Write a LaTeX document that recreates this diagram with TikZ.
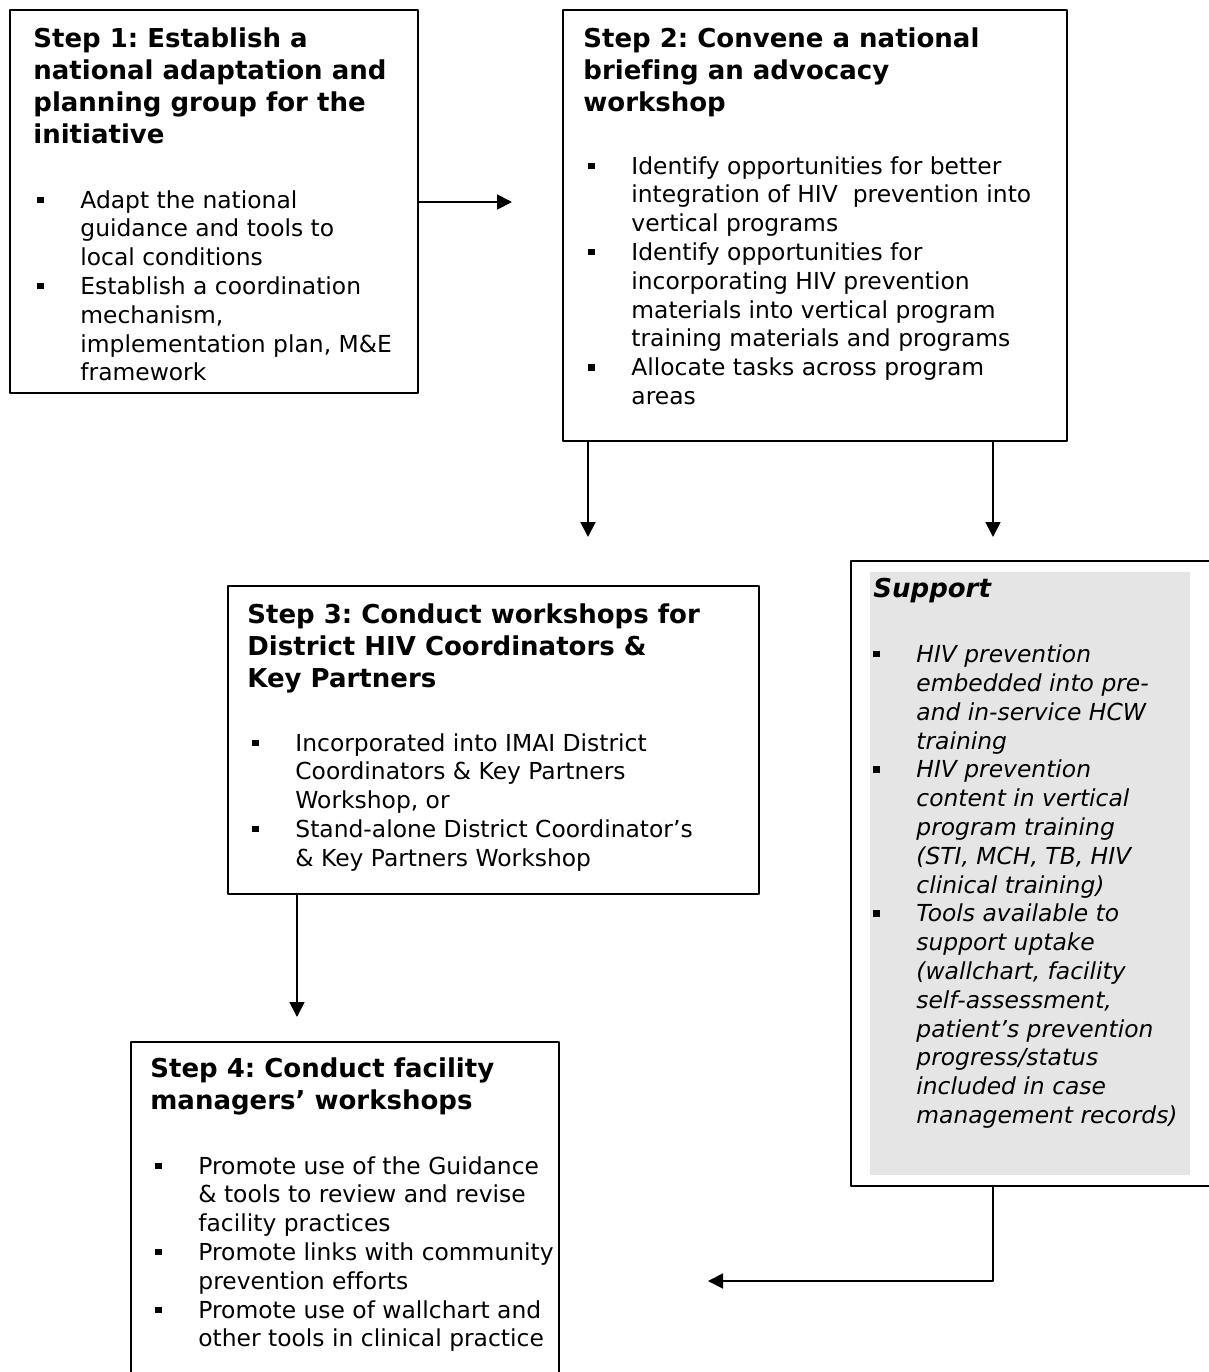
\documentclass[tikz,border=0pt]{standalone}
\usepackage{fontspec}
\setmainfont[Ligatures=CommonOff]{DejaVu Sans}
\usetikzlibrary{arrows.meta}
\definecolor{supgray}{RGB}{229,229,229}
\frenchspacing
\newcommand{\bitem}{\makebox[21.5pt][l]{\raisebox{2.6pt}{\rule{3.2pt}{3.2pt}}}}
\newcommand{\bcont}{\hspace*{21.5pt}}
\begin{document}
\begin{tikzpicture}[x=.5pt, y=-.5pt, line join=round, >={Triangle[length=7.5pt,width=7.5pt]},
	box/.style={draw, line width=1pt, inner sep=0pt, anchor=north west},
	ttl/.style={anchor=north west, inner sep=0pt, align=left, font=\fontsize{13}{16}\selectfont\bfseries},
	lst/.style={anchor=north west, inner sep=0pt, align=left, font=\fontsize{11.7}{14.4}\selectfont},
	arr/.style={->, line width=.9pt}]
	\clip (0,0) rectangle (1209,1372);
	% the four steps
	\node[box, minimum width=204pt, minimum height=191.5pt] (s1) at (9,9) {};
	\node[ttl] (t1) at (33,27.7) {Step 1: Establish a\\national adaptation and\\planning group for the\\initiative};
	\node[lst] (l1) at (37,190) {\bitem Adapt the national\\\bcont guidance and tools to\\\bcont local conditions\\
		\bitem Establish a coordination\\\bcont mechanism,\\\bcont implementation plan, M\&E\\\bcont framework};
	\node[box, minimum width=252pt, minimum height=215.5pt] (s2) at (562,9) {};
	\node[ttl] (t2) at (583,27.7) {Step 2: Convene a national\\briefing an advocacy\\workshop};
	\node[lst] (l2) at (588,156) {\bitem Identify opportunities for better\\\bcont integration of HIV\ \ prevention into\\\bcont vertical programs\\
		\bitem Identify opportunities for\\\bcont incorporating HIV prevention\\\bcont materials into vertical program\\\bcont training materials and programs\\
		\bitem Allocate tasks across program\\\bcont areas};
	\node[box, minimum width=265.5pt, minimum height=154pt] (s3) at (227,585) {};
	\node[ttl] (t3) at (247,603.7) {Step 3: Conduct workshops for\\District HIV Coordinators \&\\Key Partners};
	\node[lst] (l3) at (252,733) {\bitem Incorporated into IMAI District\\\bcont Coordinators \& Key Partners\\\bcont Workshop, or\\
		\bitem Stand-alone District Coordinator’s\\\bcont \& Key Partners Workshop};
	\node[box, minimum width=214pt, minimum height=180pt] (s4) at (130,1041) {};
	\node[ttl] (t4) at (150,1057.7) {Step 4: Conduct facility\\managers’ workshops};
	\node[lst] (l4) at (155,1156) {\bitem Promote use of the Guidance\\\bcont \& tools to review and revise\\\bcont facility practices\\
		\bitem Promote links with community\\\bcont prevention efforts\\
		\bitem Promote use of wallchart and\\\bcont other tools in clinical practice};
	% support box
	\node[box, minimum width=187.5pt, minimum height=312.5pt] (sup) at (850,560) {};
	\fill[supgray] (870,572) rectangle (1190,1175);
	\node[ttl, font=\fontsize{13}{16}\selectfont\bfseries\itshape] (ts) at (873,577.7) {Support};
	\node[lst, font=\fontsize{11.7}{14.4}\selectfont\itshape] (ls) at (873,644.5) {\bitem HIV prevention\\\bcont embedded into pre-\\\bcont and in-service HCW\\\bcont training\\
		\bitem HIV prevention\\\bcont content in vertical\\\bcont program training\\\bcont (STI, MCH, TB, HIV\\\bcont clinical training)\\
		\bitem Tools available to\\\bcont support uptake\\\bcont (wallchart, facility\\\bcont self-assessment,\\\bcont patient’s prevention\\\bcont progress/status\\\bcont included in case\\\bcont management records)};
	% arrows
	\coordinate (a1) at (512,202);
	\coordinate (a2) at (588,537);
	\coordinate (a3) at (993,537);
	\coordinate (a4) at (297,1017);
	\coordinate (a5) at (708,1281);
	\draw[arr] (s1.east |- a1) -- (a1);
	\draw[arr] (s2.south -| a2) -- (a2);
	\draw[arr] (s2.south -| a3) -- (a3);
	\draw[arr] (s3.south -| a4) -- (a4);
	\draw[arr] (sup.south -| a3) -- (a3 |- a5) -- (a5);
\end{tikzpicture}
\end{document}
